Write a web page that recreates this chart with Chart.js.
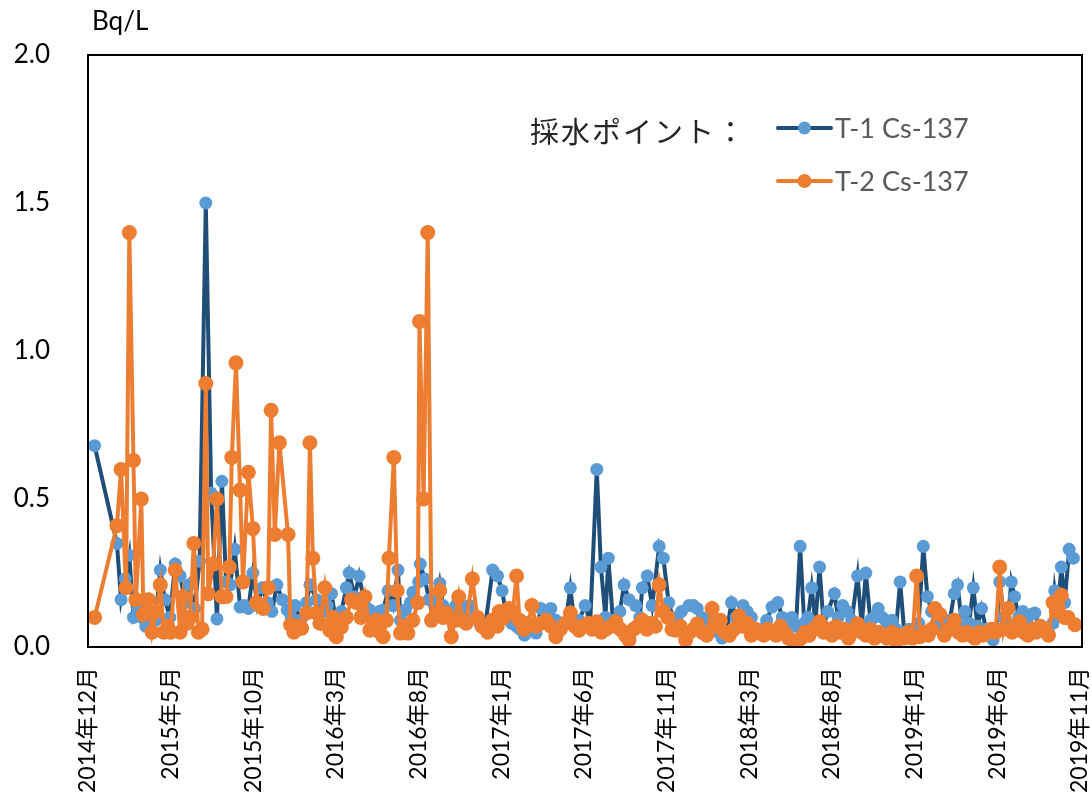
<!DOCTYPE html>
<html>
<head>
<meta charset="utf-8">
<script src="https://cdn.jsdelivr.net/npm/chart.js@4.4.1/dist/chart.umd.min.js"></script>
<style>
  html, body { margin: 0; background: #fff; }
  #wrap { width: 1092px; height: 801px; }
</style>
</head>
<body>
<div id="wrap"><canvas id="chart" width="1092" height="801"></canvas></div>
<script>
/* Cs-137 in sampled water, T-1 vs T-2. x = sample slot (about one per week), label every 20 slots. */

const tickLabels = [
  '2014年12月', '2015年5月', '2015年10月', '2016年3月', '2016年8月', '2017年1月', '2017年6月',
  '2017年11月', '2018年3月', '2018年8月', '2019年1月', '2019年6月', '2019年11月'
];
const slotsPerLabel = 20;
const yTicks = [0, 0.5, 1.0, 1.5, 2.0];

// [slot, Bq/L]
const t1Samples = [
  [1.6,0.68],[7.0,0.35],[8.0,0.16],[9.0,0.23],[10.0,0.31],[11.0,0.10],[12.0,0.13],[13.0,0.10],[14.0,0.07],[15.2,0.12],
  [16.3,0.09],[17.5,0.26],[18.6,0.16],[19.8,0.10],[21.1,0.28],[22.3,0.24],[23.5,0.15],[24.5,0.21],[25.8,0.13],[27.0,0.29],
  [28.5,1.50],[29.8,0.52],[31.2,0.095],[32.4,0.56],[33.4,0.22],[34.4,0.21],[35.5,0.33],[36.8,0.135],[37.8,0.14],[38.8,0.13],
  [39.9,0.25],[41.0,0.14],[42.2,0.20],[43.4,0.15],[44.5,0.12],[45.7,0.21],[47.0,0.16],[48.2,0.125],[49.2,0.10],[50.1,0.14],
  [51.5,0.09],[52.9,0.15],[53.7,0.21],[55.3,0.16],[56.9,0.12],[57.9,0.14],[58.9,0.18],[60.1,0.08],[61.3,0.12],[62.5,0.20],
  [63.2,0.25],[64.5,0.17],[65.6,0.24],[67.0,0.14],[68.2,0.125],[69.5,0.10],[70.5,0.12],[71.4,0.125],[72.6,0.19],[73.8,0.14],
  [75.0,0.26],[75.6,0.09],[76.8,0.125],[78.0,0.15],[78.6,0.185],[80.0,0.22],[80.4,0.28],[81.5,0.23],[82.5,0.16],[83.5,0.10],
  [84.3,0.15],[85.1,0.215],[85.9,0.14],[87.0,0.12],[88.0,0.10],[89.0,0.14],[90.5,0.12],[91.5,0.135],[92.3,0.14],[93.5,0.10],
  [94.8,0.08],[96.0,0.06],[97.9,0.26],[99.1,0.24],[100.2,0.19],[101.3,0.10],[102.5,0.08],[103.7,0.07],[104.5,0.06],[105.6,0.04],
  [106.8,0.07],[108.4,0.047],[109.6,0.13],[110.8,0.08],[112.0,0.13],[113.2,0.09],[114.4,0.07],[115.5,0.08],[116.7,0.20],[117.8,0.07],
  [118.8,0.09],[120.3,0.14],[121.5,0.08],[123.1,0.60],[124.1,0.27],[125.2,0.10],[125.9,0.30],[127.0,0.09],[128.7,0.12],[129.7,0.21],
  [130.9,0.16],[132.5,0.14],[133.5,0.10],[134.1,0.20],[135.3,0.24],[136.5,0.14],[138.2,0.34],[139.2,0.30],[140.5,0.15],[141.5,0.10],
  [142.5,0.09],[143.6,0.12],[145.4,0.14],[146.5,0.14],[147.4,0.13],[148.6,0.10],[150.2,0.09],[151.5,0.06],[152.5,0.05],[153.4,0.03],
  [154.5,0.05],[155.7,0.15],[156.8,0.10],[158.5,0.14],[159.5,0.12],[160.5,0.10],[161.8,0.05],[163.0,0.06],[164.2,0.09],[165.5,0.135],
  [166.9,0.15],[168.0,0.10],[169.2,0.08],[170.3,0.10],[171.3,0.07],[172.3,0.34],[173.3,0.08],[174.2,0.10],[175.1,0.20],[176.0,0.08],
  [177.0,0.27],[178.0,0.07],[179.0,0.12],[180.6,0.18],[181.5,0.10],[182.6,0.14],[183.7,0.12],[184.8,0.09],[186.2,0.24],[187.2,0.07],
  [188.2,0.25],[189.3,0.09],[190.2,0.10],[191.2,0.13],[192.2,0.10],[193.3,0.08],[194.5,0.09],[195.5,0.06],[196.5,0.22],[197.5,0.05],
  [198.7,0.06],[199.8,0.04],[201.0,0.08],[202.1,0.34],[203.1,0.17],[204.1,0.12],[205.2,0.08],[206.4,0.06],[207.5,0.07],[208.5,0.09],
  [209.6,0.18],[210.4,0.21],[211.4,0.08],[212.2,0.12],[213.2,0.08],[214.2,0.20],[215.2,0.07],[216.2,0.13],[217.3,0.06],[218.2,0.05],
  [219.0,0.024],[219.8,0.06],[220.6,0.22],[221.6,0.10],[222.5,0.08],[223.4,0.22],[224.2,0.17],[225.2,0.10],[226.2,0.12],[227.2,0.09],
  [228.2,0.11],[229.1,0.115],[230.2,0.07],[231.3,0.06],[232.3,0.05],[233.4,0.08],[233.9,0.19],[234.6,0.12],[235.5,0.27],[236.3,0.15],
  [237.4,0.33],[238.4,0.30]
];

const t2Samples = [
  [1.6,0.10],[7.0,0.41],[8.0,0.60],[9.2,0.20],[10.0,1.40],[11.0,0.63],[11.6,0.16],[12.9,0.50],[13.4,0.11],[14.6,0.16],
  [15.5,0.05],[16.5,0.12],[17.5,0.21],[18.3,0.05],[19.3,0.07],[20.0,0.05],[21.1,0.26],[22.3,0.05],[23.0,0.17],[24.0,0.08],
  [24.7,0.10],[25.6,0.35],[26.7,0.05],[27.6,0.06],[28.5,0.89],[29.1,0.18],[30.3,0.28],[31.2,0.50],[32.4,0.17],[33.4,0.17],
  [34.2,0.27],[34.8,0.64],[35.8,0.96],[36.8,0.53],[37.5,0.22],[38.8,0.59],[39.9,0.40],[40.8,0.15],[41.6,0.14],[42.4,0.13],
  [43.6,0.20],[44.3,0.80],[45.2,0.38],[46.3,0.69],[48.4,0.38],[49.0,0.075],[49.8,0.05],[50.8,0.07],[51.7,0.063],[52.9,0.115],
  [53.7,0.69],[54.4,0.30],[55.3,0.115],[56.1,0.08],[57.3,0.20],[58.5,0.057],[59.3,0.10],[60.1,0.035],[61.3,0.068],[62.5,0.10],
  [63.8,0.16],[65.0,0.15],[66.0,0.10],[67.0,0.17],[68.2,0.057],[69.0,0.08],[69.8,0.09],[70.6,0.05],[71.4,0.035],[72.2,0.09],
  [72.8,0.30],[74.0,0.64],[74.8,0.19],[75.6,0.047],[76.5,0.07],[77.4,0.047],[78.6,0.09],[79.8,0.15],[80.2,1.10],[81.2,0.50],
  [82.2,1.40],[83.1,0.09],[84.3,0.115],[85.1,0.19],[85.9,0.10],[86.7,0.115],[87.9,0.035],[88.8,0.09],[89.7,0.17],[90.6,0.09],
  [91.5,0.08],[93.0,0.23],[94.2,0.10],[95.3,0.07],[96.7,0.05],[97.8,0.09],[99.0,0.07],[99.5,0.12],[100.8,0.10],[101.8,0.13],
  [102.8,0.12],[103.7,0.24],[104.4,0.09],[105.5,0.06],[106.5,0.08],[107.4,0.14],[108.5,0.07],[109.6,0.08],[110.8,0.09],[112.0,0.07],
  [113.2,0.035],[114.3,0.06],[115.5,0.08],[116.7,0.115],[117.8,0.07],[118.8,0.057],[119.8,0.07],[121.0,0.08],[122.0,0.06],[123.1,0.085],
  [124.2,0.05],[125.3,0.06],[126.5,0.07],[127.7,0.085],[128.8,0.06],[130.0,0.04],[130.9,0.024],[132.0,0.06],[133.0,0.07],[134.1,0.09],
  [135.2,0.06],[136.3,0.08],[137.3,0.07],[138.2,0.21],[139.2,0.12],[140.3,0.10],[141.3,0.06],[142.2,0.057],[143.3,0.07],[144.6,0.024],
  [145.6,0.05],[146.5,0.06],[147.4,0.078],[148.6,0.05],[149.7,0.04],[151.0,0.13],[152.0,0.07],[153.0,0.09],[154.0,0.05],[155.2,0.04],
  [156.3,0.06],[157.5,0.105],[158.5,0.07],[159.5,0.08],[160.5,0.04],[161.5,0.06],[162.5,0.05],[163.5,0.04],[164.5,0.06],[165.5,0.05],
  [166.5,0.04],[167.5,0.07],[168.5,0.05],[169.5,0.03],[170.5,0.02],[171.5,0.013],[172.5,0.03],[173.5,0.05],[174.5,0.04],[175.5,0.06],
  [177.0,0.085],[178.0,0.05],[179.0,0.06],[180.0,0.04],[181.0,0.07],[182.0,0.05],[183.0,0.06],[184.0,0.03],[185.0,0.05],[186.2,0.078],
  [187.2,0.05],[188.2,0.04],[189.3,0.06],[190.3,0.03],[191.3,0.05],[192.3,0.04],[193.3,0.03],[194.5,0.05],[195.5,0.02],[196.5,0.04],
  [197.5,0.03],[198.5,0.05],[199.5,0.03],[200.5,0.24],[201.3,0.035],[202.3,0.05],[203.3,0.04],[204.1,0.06],[204.9,0.13],[206.1,0.11],
  [207.2,0.04],[208.3,0.06],[209.6,0.09],[210.6,0.05],[211.6,0.04],[212.6,0.05],[213.6,0.04],[214.6,0.03],[215.6,0.05],[216.6,0.04],
  [217.6,0.05],[218.6,0.06],[219.6,0.05],[220.6,0.27],[221.5,0.06],[222.6,0.13],[223.6,0.05],[224.6,0.06],[225.4,0.085],[226.4,0.05],
  [227.4,0.04],[228.4,0.06],[229.4,0.05],[230.4,0.07],[231.4,0.06],[232.4,0.04],[233.5,0.15],[234.3,0.12],[235.5,0.175],[236.3,0.10],
  [237.1,0.10],[238.8,0.075]
];

const T1_LINE = '#1F4E79', T1_DOT = '#5B9BD5', T2 = '#ED7D31';
const LATIN = 'Lato, "Noto Sans CJK JP", sans-serif';

const toPts = arr => arr.map(([x, y]) => ({ x, y }));

// frame on top/right, unit label, legend
const decorations = {
  id: 'decorations',
  afterDraw(chart) {
    const { ctx, chartArea: a } = chart;
    ctx.save();
    ctx.strokeStyle = '#000';
    ctx.lineWidth = 2;
    ctx.strokeRect(a.left, a.top, a.right - a.left, a.bottom - a.top);

    ctx.fillStyle = '#000';
    ctx.font = '26px ' + LATIN;
    ctx.textBaseline = 'middle';
    ctx.textAlign = 'left';
    ctx.fillText('Bq/L', 92, 22);

    ctx.fillStyle = '#262626';
    ctx.font = '29px "Noto Sans CJK JP", sans-serif';
    ctx.letterSpacing = '2px';
    ctx.fillText('採水ポイント：', 530, 132);
    ctx.letterSpacing = '0px';

    const rows = [
      { y: 128, line: T1_LINE, dot: T1_DOT, r: 6.5, text: 'T-1 Cs-137' },
      { y: 181, line: T2, dot: T2, r: 7, text: 'T-2 Cs-137' },
    ];
    rows.forEach(row => {
      ctx.strokeStyle = row.line;
      ctx.lineWidth = 4;
      ctx.lineCap = 'round';
      ctx.beginPath();
      ctx.moveTo(778, row.y);
      ctx.lineTo(831, row.y);
      ctx.stroke();
      ctx.fillStyle = row.dot;
      ctx.beginPath();
      ctx.arc(804.5, row.y, row.r, 0, Math.PI * 2);
      ctx.fill();
      ctx.fillStyle = '#595959';
      ctx.font = '27px ' + LATIN;
      ctx.fillText(row.text, 835, row.y + 1);
    });
    ctx.restore();
  }
};

new Chart(document.getElementById('chart'), {
  type: 'line',
  data: {
    datasets: [
      {
        label: 'T-1 Cs-137',
        data: toPts(t1Samples),
        borderColor: T1_LINE,
        borderWidth: 4,
        pointBackgroundColor: T1_DOT,
        pointBorderColor: T1_DOT,
        pointBorderWidth: 0,
        pointRadius: 6.5,
        tension: 0,
        order: 2,
      },
      {
        label: 'T-2 Cs-137',
        data: toPts(t2Samples),
        borderColor: T2,
        borderWidth: 4,
        pointBackgroundColor: T2,
        pointBorderColor: T2,
        pointBorderWidth: 0,
        pointRadius: 7.5,
        tension: 0,
        order: 1,
      },
    ],
  },
  options: {
    responsive: false,
    animation: false,
    devicePixelRatio: 1,
    layout: { padding: { top: 55, right: 10, left: 0, bottom: 0 } },
    plugins: { legend: { display: false }, tooltip: { enabled: false } },
    scales: {
      x: {
        type: 'linear',
        min: 0,
        max: 240.5,
        afterFit: s => { s.height = 154; s.paddingLeft = 0; s.paddingRight = 0; },
        afterBuildTicks: s => { s.ticks = tickLabels.map((_, i) => ({ value: i * slotsPerLabel })); },
        grid: { display: false, drawTicks: false },
        border: { display: true, color: '#000', width: 2 },
        ticks: {
          minRotation: 90,
          maxRotation: 90,
          padding: 20,
          color: '#000',
          font: { family: LATIN, size: 23 },
          callback: v => tickLabels[Math.round(v / slotsPerLabel)] ?? '',
        },
      },
      y: {
        min: 0,
        max: 2.0,
        afterFit: s => { s.width = 88; s.paddingTop = 0; s.paddingBottom = 0; },
        afterBuildTicks: s => { s.ticks = yTicks.map(v => ({ value: v })); },
        grid: { display: false, drawTicks: false },
        border: { display: true, color: '#000', width: 2 },
        ticks: {
          padding: 38,
          color: '#000',
          font: { family: LATIN, size: 26 },
          callback: v => Number(v).toFixed(1),
        },
      },
    },
  },
  plugins: [decorations],
});
</script>
</body>
</html>
